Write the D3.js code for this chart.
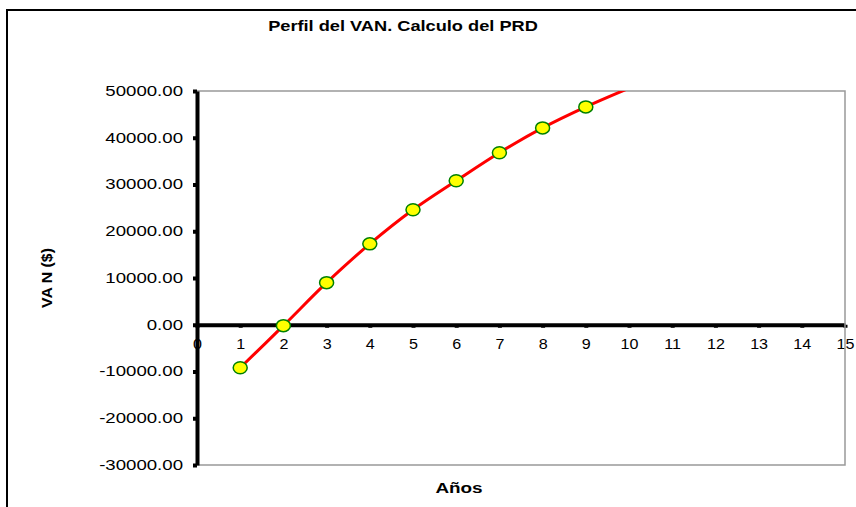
<!DOCTYPE html>
<html><head><meta charset="utf-8">
<script src="https://cdn.jsdelivr.net/npm/d3@7"></script>
<style>
body{margin:0;background:#fff}
svg{display:block}
text{font-family:"Liberation Sans",Arial,sans-serif;fill:#000}
</style>
</head><body>
<svg id="c" width="856" height="507"></svg>
<script>
const years = [1, 2, 3, 4, 5, 6, 7, 8, 9, 10];
const van = [-9200, -200, 9000, 17300, 24600, 30800, 36800, 42100, 46600, 50600];
const xTicks = [0, 1, 2, 3, 4, 5, 6, 7, 8, 9, 10, 11, 12, 13, 14, 15];
const yTicks = [-30000, -20000, -10000, 0, 10000, 20000, 30000, 40000, 50000];
const titleText = "Perfil del VAN. Calculo del PRD";
const xTitle = "Años";
const yTitle = "VA N ($)";

const svg = d3.select("#c");
const m = {l: 197, r: 845, t: 91, b: 465};
const x = d3.scaleLinear().domain([0, 15]).range([m.l, m.r]);
const y = d3.scaleLinear().domain([-30000, 50000]).range([m.b, m.t]);

function stretch(sel, k) {
  sel.each(function () {
    const L = this.getComputedTextLength();
    this.setAttribute("textLength", L * k);
    this.setAttribute("lengthAdjust", "spacingAndGlyphs");
  });
}

// outer chart border
svg.append("rect").attr("x", 7).attr("y", 10).attr("width", 900).attr("height", 600)
  .attr("fill", "#fff").attr("stroke", "#000").attr("stroke-width", 2);

// title
const t = svg.append("text").attr("x", 403).attr("y", 31).attr("text-anchor", "middle")
  .attr("font-size", 14).attr("font-weight", "bold").text(titleText);
stretch(t, 1.3);

// x axis at y=0
const gx = svg.append("g").attr("transform", `translate(0,${y(0)})`)
  .call(d3.axisBottom(x).tickValues(xTicks).tickSizeInner(3).tickSizeOuter(0).tickPadding(11).tickFormat(d => String(d)));
gx.select(".domain").attr("stroke", "#000").attr("stroke-width", 4);
gx.selectAll(".tick line").attr("stroke", "#000").attr("stroke-width", 4);
gx.selectAll(".tick text").attr("font-size", 14).attr("font-family", null).call(stretch, 1.15);

// plot border (gray)
svg.append("rect").attr("x", m.l).attr("y", m.t).attr("width", m.r - m.l).attr("height", m.b - m.t)
  .attr("fill", "none").attr("stroke", "#999").attr("stroke-width", 1.5);

// y axis
const gy = svg.append("g").attr("transform", `translate(${m.l},0)`)
  .call(d3.axisLeft(y).tickValues(yTicks).tickSizeInner(4).tickSizeOuter(0).tickPadding(10).tickFormat(d => d.toFixed(2)));
gy.select(".domain").attr("stroke", "#000").attr("stroke-width", 4);
gy.selectAll(".tick line").attr("stroke", "#000").attr("stroke-width", 4);
gy.selectAll(".tick text").attr("font-size", 14).attr("font-family", null).call(stretch, 1.33);

// clip
svg.append("clipPath").attr("id", "clip").append("rect")
  .attr("x", m.l).attr("y", m.t).attr("width", m.r - m.l).attr("height", m.b - m.t);

const data = years.map((d, i) => ({x: d, v: van[i]}));
const line = d3.line().x(d => x(d.x)).y(d => y(d.v)).curve(d3.curveCatmullRom.alpha(0.5));
svg.append("path").datum(data).attr("d", line).attr("fill", "none")
  .attr("stroke", "#ff0000").attr("stroke-width", 3).attr("clip-path", "url(#clip)");

svg.append("g").selectAll("ellipse").data(data.filter(d => d.v <= 50000 && d.v >= -30000)).join("ellipse")
  .attr("cx", d => x(d.x)).attr("cy", d => y(d.v)).attr("rx", 7).attr("ry", 6)
  .attr("fill", "#ffff00").attr("stroke", "#008000").attr("stroke-width", 1.5);

// axis titles
const xt = svg.append("text").attr("x", 459).attr("y", 493).attr("text-anchor", "middle")
  .attr("font-size", 14).attr("font-weight", "bold").text(xTitle);
stretch(xt, 1.35);
const yt = svg.append("text").attr("transform", "translate(52,278) rotate(-90)").attr("text-anchor", "middle")
  .attr("font-size", 15).attr("font-weight", "bold").text(yTitle);
yt.attr("textLength", 60).attr("lengthAdjust", "spacingAndGlyphs");
</script>
</body></html>
